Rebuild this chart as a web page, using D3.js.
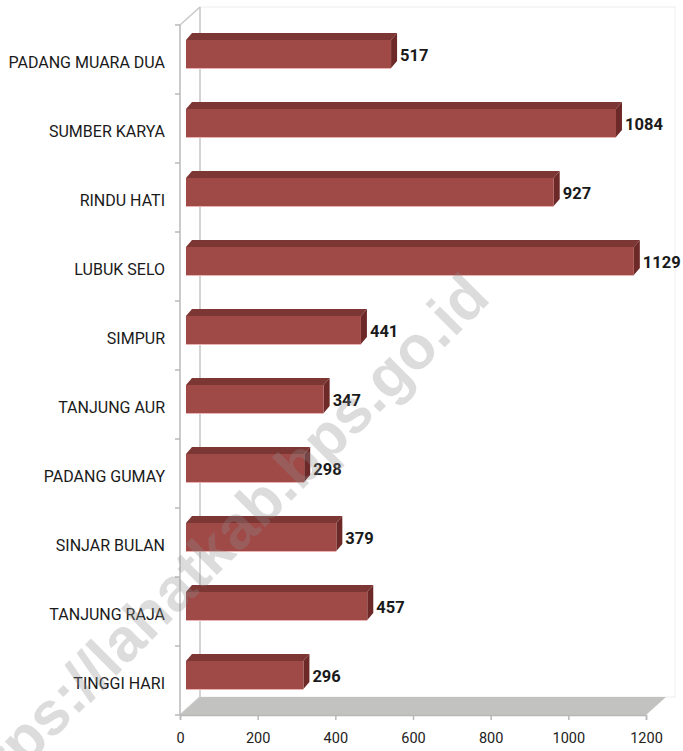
<!DOCTYPE html>
<html>
<head>
<meta charset="utf-8">
<script src="https://cdn.jsdelivr.net/npm/d3@7"></script>
<style>
  body { margin: 0; background: #fff; }
  svg { display: block; }
</style>
</head>
<body>
<div id="chart"></div>
<script>
const categories = ['PADANG MUARA DUA', 'SUMBER KARYA', 'RINDU HATI', 'LUBUK SELO', 'SIMPUR',
    'TANJUNG AUR', 'PADANG GUMAY', 'SINJAR BULAN', 'TANJUNG RAJA', 'TINGGI HARI'];
const values = [517, 1084, 927, 1129, 441, 347, 298, 379, 457, 296];
const xTicks = [0, 200, 400, 600, 800, 1000, 1200];
const watermark = 'https://lahatkab.bps.go.id';

const width = 683, height = 751;
const depthX = 20, depthY = 18;     // wall / floor depth
const barDX = 6, barDY = 7;         // bar top / side depth
const font = "Roboto, sans-serif";

const svg = d3.select('#chart').append('svg')
    .attr('width', width)
    .attr('height', height);

// axis scale (front plane) and bar scale (mid depth plane)
const x = d3.scaleLinear().domain([0, 1200]).range([180, 646]);
const xBar = d3.scaleLinear().domain([0, 1200]).range([186, 662]);
const y = d3.scaleBand().domain(categories).range([25, 715]).padding(0);

const plotTop = y.range()[0], plotBottom = y.range()[1];
const x0 = x(0), x1 = x(1200);

// back wall outline
svg.append('rect')
    .attr('x', x0 + depthX).attr('y', plotTop - depthY)
    .attr('width', 675 - x0 - depthX).attr('height', plotBottom - plotTop)
    .attr('fill', 'none').attr('stroke', '#eeeeee');

// floor
svg.append('path')
    .attr('d', `M${x0},${plotBottom} L${x1},${plotBottom} L${x1 + depthX},${plotBottom - depthY} L${x0 + depthX},${plotBottom - depthY} Z`)
    .attr('fill', '#c2c2c0');

// side wall edges
svg.append('path')
    .attr('d', `M${x0 + depthX},${plotTop - depthY} L${x0 + depthX},${plotBottom - depthY} L${x0},${plotBottom}`)
    .attr('fill', 'none').attr('stroke', '#c8c8c8').attr('stroke-width', 1.5);
svg.append('path')
    .attr('d', `M${x0},${plotTop} L${x0 + depthX},${plotTop - depthY}`)
    .attr('fill', 'none').attr('stroke', '#c8c8c8').attr('stroke-width', 1.5);

// y axis with ticks between categories
svg.append('line')
    .attr('x1', x0).attr('x2', x0).attr('y1', plotTop).attr('y2', plotBottom)
    .attr('stroke', '#b8b8b8').attr('stroke-width', 1.5);
svg.selectAll('.ytick')
    .data(categories.concat([null]))
    .enter().append('line')
    .attr('class', 'ytick')
    .attr('x1', x0 - 5).attr('x2', x0)
    .attr('y1', (d, i) => plotTop + i * y.bandwidth())
    .attr('y2', (d, i) => plotTop + i * y.bandwidth())
    .attr('stroke', '#b8b8b8').attr('stroke-width', 1.5);

// x axis
const xAxis = d3.axisBottom(x).tickValues(xTicks).tickSize(5).tickPadding(13).tickFormat(d3.format('d'));
const gx = svg.append('g')
    .attr('transform', `translate(0, ${plotBottom})`)
    .call(xAxis);
gx.select('.domain').attr('stroke', '#b8b8b8').attr('stroke-width', 1.5);
gx.selectAll('.tick line').attr('stroke', '#b8b8b8').attr('stroke-width', 1.5);
gx.selectAll('.tick text')
    .attr('fill', '#222')
    .style('font-family', font)
    .style('font-size', '14.5px');

// category labels
svg.selectAll('.cat')
    .data(categories)
    .enter().append('text')
    .attr('class', 'cat')
    .attr('x', 165)
    .attr('y', d => y(d) + y.bandwidth() / 2 + 3)
    .attr('dy', '0.35em')
    .attr('text-anchor', 'end')
    .attr('fill', '#1a1a1a')
    .style('font-family', font)
    .style('font-size', '16px')
    .text(d => d);

// bars
const data = categories.map((c, i) => ({ name: c, value: values[i] }));
const barH = 28;
const bars = svg.selectAll('.bar')
    .data(data)
    .enter().append('g')
    .attr('class', 'bar');

const by = d => y(d.name) + 15;

bars.append('path')   // top face
    .attr('d', d => {
        const l = xBar(0), r = xBar(d.value), t = by(d);
        return `M${l},${t} L${l + barDX},${t - barDY} L${r + barDX},${t - barDY} L${r},${t} Z`;
    })
    .attr('fill', '#7c3634');
bars.append('path')   // side face
    .attr('d', d => {
        const r = xBar(d.value), t = by(d);
        return `M${r},${t} L${r + barDX},${t - barDY} L${r + barDX},${t + barH - barDY} L${r},${t + barH} Z`;
    })
    .attr('fill', '#6c2927');
bars.append('rect')   // front face
    .attr('x', xBar(0))
    .attr('y', by)
    .attr('width', d => xBar(d.value) - xBar(0))
    .attr('height', barH)
    .attr('fill', '#a04a48');
bars.append('line')   // light lower edge
    .attr('x1', xBar(0))
    .attr('x2', d => xBar(d.value))
    .attr('y1', d => by(d) + barH + 0.5)
    .attr('y2', d => by(d) + barH + 0.5)
    .attr('stroke', '#e8b4b2').attr('stroke-width', 1);

// value labels
bars.append('text')
    .attr('x', d => xBar(d.value) + barDX + 3)
    .attr('y', d => by(d) + barH / 2 + 1)
    .attr('dy', '0.35em')
    .attr('fill', '#1a1a1a')
    .style('font-family', font)
    .style('font-size', '16.5px')
    .style('font-weight', 'bold')
    .text(d => d.value);

// watermark
svg.append('text')
    .attr('transform', 'translate(492, 300) rotate(-45)')
    .attr('text-anchor', 'end')
    .attr('fill', '#8a8a8a')
    .attr('fill-opacity', 0.3)
    .style('font-family', "'Liberation Sans', Arial, sans-serif")
    .style('font-size', '61px')
    .style('font-weight', 'bold')
    .text(watermark);
</script>
</body>
</html>
